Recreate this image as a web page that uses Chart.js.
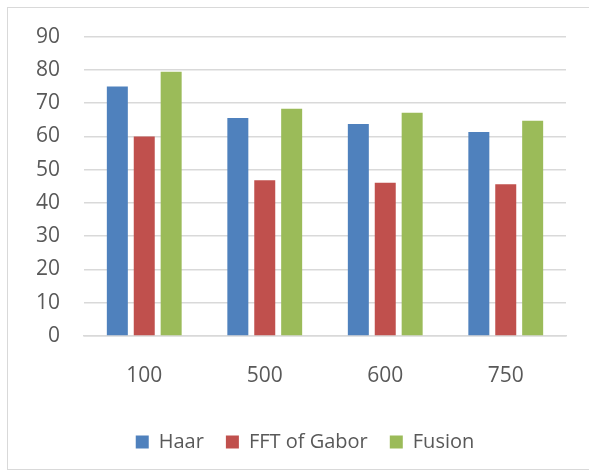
<!DOCTYPE html>
<html>
<head>
<meta charset="utf-8">
<script src="https://cdn.jsdelivr.net/npm/chart.js@4"></script>
<style>
  html,body{margin:0;padding:0;background:#fff;}
  #wrap{position:relative;width:589px;height:474px;}
  #frame{position:absolute;left:7px;top:7px;width:585px;height:463px;border:1px solid #d9d9d9;box-sizing:border-box;}
  canvas{position:absolute;left:0;top:0;}
</style>
</head>
<body>
<div id="wrap">
  <div id="frame"></div>
  <canvas id="c" width="589" height="474"></canvas>
</div>
<script>
const categories = ['100', '500', '600', '750'];
const haar = [75, 65.5, 63.7, 61.3];
const fftGabor = [60, 46.8, 46.1, 45.6];
const fusion = [79.4, 68.3, 67.1, 64.7];
const yTicks = [0, 10, 20, 30, 40, 50, 60, 70, 80, 90];

const textColor = '#595959';
const fontFamily = '"Open Sans", sans-serif';

const legendShift = {
  id: 'legendShift',
  afterLayout(chart) {
    if (chart.legend) {
      chart.legend.left += 22;
      chart.legend.right += 22;
    }
  }
};

new Chart(document.getElementById('c'), {
  type: 'bar',
  data: {
    labels: categories,
    datasets: [
      { label: 'Haar', data: haar, backgroundColor: '#4F81BD' },
      { label: 'FFT of Gabor', data: fftGabor, backgroundColor: '#C0504D' },
      { label: 'Fusion', data: fusion, backgroundColor: '#9BBB59' }
    ]
  },
  plugins: [legendShift],
  options: {
    responsive: false,
    animation: false,
    devicePixelRatio: 1,
    layout: { padding: { left: 0, right: 23, top: 26, bottom: 12 } },
    datasets: { bar: { categoryPercentage: 0.67, barPercentage: 0.78 } },
    plugins: {
      tooltip: { enabled: false },
      legend: {
        position: 'bottom',
        labels: {
          color: textColor,
          font: { family: fontFamily, size: 20 },
          boxWidth: 13,
          boxHeight: 13,
          padding: 22
        }
      }
    },
    scales: {
      x: {
        grid: { display: false, drawTicks: false },
        border: { display: true, color: '#d9d9d9', width: 1.5 },
        ticks: { color: textColor, font: { family: fontFamily, size: 21 }, padding: 27 },
        afterFit: s => { s.height = 74; }
      },
      y: {
        min: 0, max: 90,
        afterBuildTicks: s => { s.ticks = yTicks.map(v => ({ value: v })); },
        grid: { color: '#d9d9d9', lineWidth: 1.5, drawTicks: false },
        border: { display: false },
        ticks: { color: textColor, font: { family: fontFamily, size: 21 }, padding: 24 },
        afterFit: s => { s.width = 84; }
      }
    }
  }
});
</script>
</body>
</html>
